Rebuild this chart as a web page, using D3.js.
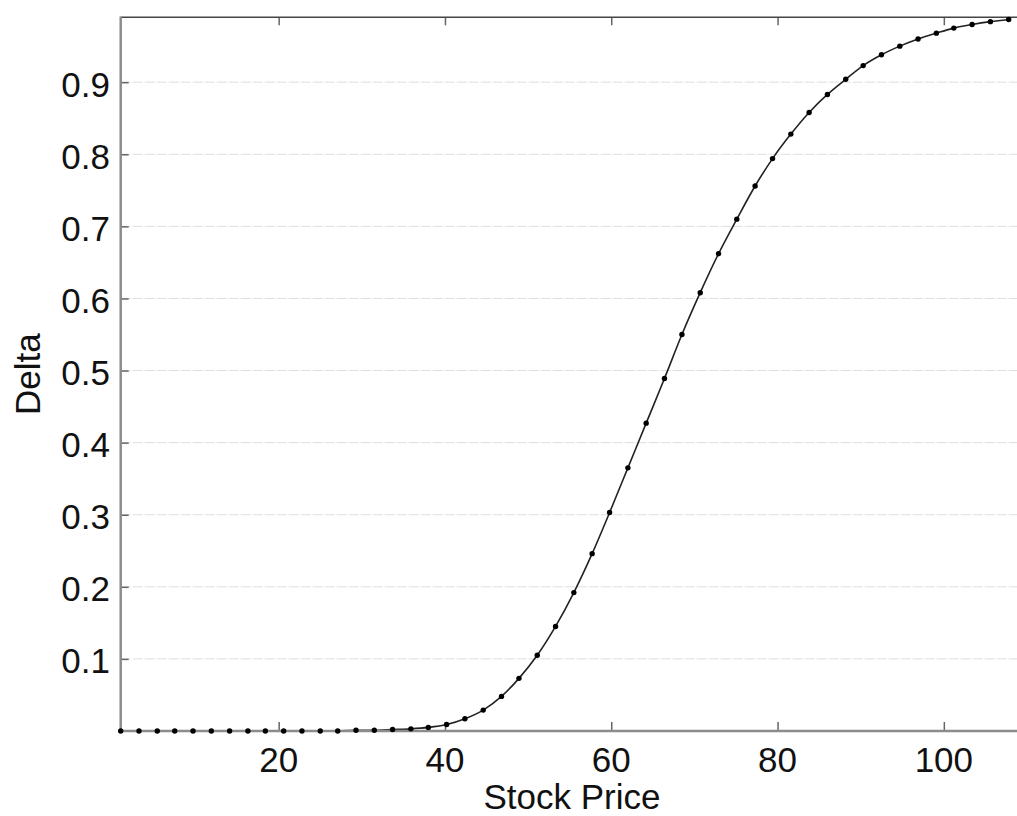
<!DOCTYPE html>
<html>
<head>
<meta charset="utf-8">
<script src="https://cdn.jsdelivr.net/npm/d3@7"></script>
<style>
  html, body { margin: 0; padding: 0; background: #fff; }
  svg { display: block; font-family: "Liberation Sans", Arial, sans-serif; }
</style>
</head>
<body>
<svg id="chart" width="1017" height="816"></svg>
<script>
// stock price sampled along the x axis
const stockPrice = [
  1.0, 3.2, 5.4, 7.5, 9.7, 11.9, 14.1, 16.3, 18.4, 20.6,
  22.8, 25.0, 27.1, 29.3, 31.5, 33.7, 35.9, 38.0, 40.2, 42.4,
  44.6, 46.8, 48.9, 51.1, 53.3, 55.5, 57.7, 59.8, 62.0, 64.2,
  66.4, 68.5, 70.7, 72.9, 75.1, 77.3, 79.4, 81.6, 83.8, 86.0,
  88.2, 90.3, 92.5, 94.7, 96.9, 99.1, 101.2, 103.4, 105.6, 107.8
];

// option delta
const delta = [
  0, 0, 0, 0, 0, 0, 0, 0, 0, 0,
  0, 0, 0, 0.001, 0.001, 0.002, 0.003, 0.005, 0.009, 0.017,
  0.029, 0.048, 0.073, 0.105, 0.145, 0.192, 0.246, 0.303, 0.365, 0.427,
  0.489, 0.550, 0.608, 0.662, 0.710, 0.756, 0.794, 0.828, 0.858, 0.883,
  0.904, 0.923, 0.938, 0.950, 0.960, 0.968, 0.975, 0.980, 0.984, 0.987
];

const xTicks = [20, 40, 60, 80, 100];
const yTicks = [0.1, 0.2, 0.3, 0.4, 0.5, 0.6, 0.7, 0.8, 0.9];

const svg = d3.select('#chart');
const plot = { left: 120.7, right: 1017, top: 17.3, bottom: 731 };

const x = d3.scaleLinear().domain([1, 108.8]).range([plot.left, plot.right]);
const y = d3.scaleLinear().domain([0, 0.99]).range([plot.bottom, plot.top]);

const points = stockPrice.map((s, i) => ({ s, d: delta[i] }));

// grid lines
svg.append('g')
  .selectAll('line')
  .data(yTicks)
  .join('line')
  .attr('x1', plot.left).attr('x2', plot.right)
  .attr('y1', d => y(d)).attr('y2', d => y(d))
  .attr('stroke', '#dedede')
  .attr('stroke-width', 1)
  .attr('stroke-dasharray', '10,2');

// left axis (ticks inward)
svg.append('g')
  .attr('transform', `translate(${plot.left},0)`)
  .call(d3.axisRight(y).tickValues(yTicks).tickSize(8).tickFormat(''))
  .call(g => g.select('.domain').remove())
  .call(g => g.selectAll('.tick line').attr('stroke', '#666').attr('stroke-width', 1.5));

// bottom axis ticks inward
svg.append('g')
  .attr('transform', `translate(0,${plot.bottom})`)
  .call(d3.axisTop(x).tickValues(xTicks).tickSize(9).tickFormat(''))
  .call(g => g.select('.domain').remove())
  .call(g => g.selectAll('.tick line').attr('stroke', '#666').attr('stroke-width', 1.5));

// top axis ticks inward
svg.append('g')
  .attr('transform', `translate(0,${plot.top})`)
  .call(d3.axisBottom(x).tickValues(xTicks).tickSize(8).tickFormat(''))
  .call(g => g.select('.domain').remove())
  .call(g => g.selectAll('.tick line').attr('stroke', '#666').attr('stroke-width', 1.5));

// frame
svg.append('line')
  .attr('x1', plot.left).attr('x2', plot.right).attr('y1', plot.top).attr('y2', plot.top)
  .attr('stroke', '#444').attr('stroke-width', 1.5);
svg.append('line')
  .attr('x1', plot.left).attr('x2', plot.left).attr('y1', plot.top - 0.75).attr('y2', plot.bottom)
  .attr('stroke', '#8c8c8c').attr('stroke-width', 2.5);

// curve
const line = d3.line()
  .x(d => x(d.s))
  .y(d => y(d.d))
  .curve(d3.curveMonotoneX);

svg.append('path')
  .datum(points)
  .attr('fill', 'none')
  .attr('stroke', '#222')
  .attr('stroke-width', 1.6)
  .attr('d', line);

svg.append('line')
  .attr('x1', plot.left).attr('x2', plot.right).attr('y1', plot.bottom).attr('y2', plot.bottom)
  .attr('stroke', '#8c8c8c').attr('stroke-width', 2.5);

svg.append('g')
  .selectAll('circle')
  .data(points)
  .join('circle')
  .attr('cx', d => x(d.s))
  .attr('cy', d => y(d.d))
  .attr('r', 2.7)
  .attr('fill', '#000');

// tick labels
svg.append('g')
  .selectAll('text')
  .data(yTicks)
  .join('text')
  .attr('x', 110)
  .attr('y', d => y(d) + 14.5)
  .attr('text-anchor', 'end')
  .attr('font-size', 35)
  .attr('fill', '#111')
  .text(d => d3.format('.1f')(d));

svg.append('g')
  .selectAll('text')
  .data(xTicks)
  .join('text')
  .attr('x', d => x(d))
  .attr('y', 771.5)
  .attr('text-anchor', 'middle')
  .attr('font-size', 35)
  .attr('fill', '#111')
  .text(d => d);

// axis titles
svg.append('text')
  .attr('x', 572)
  .attr('y', 809)
  .attr('text-anchor', 'middle')
  .attr('font-size', 35)
  .attr('fill', '#111')
  .text('Stock Price');

svg.append('text')
  .attr('transform', `translate(40,${(plot.top + plot.bottom) / 2}) rotate(-90)`)
  .attr('text-anchor', 'middle')
  .attr('font-size', 35)
  .attr('fill', '#111')
  .text('Delta');
</script>
</body>
</html>
